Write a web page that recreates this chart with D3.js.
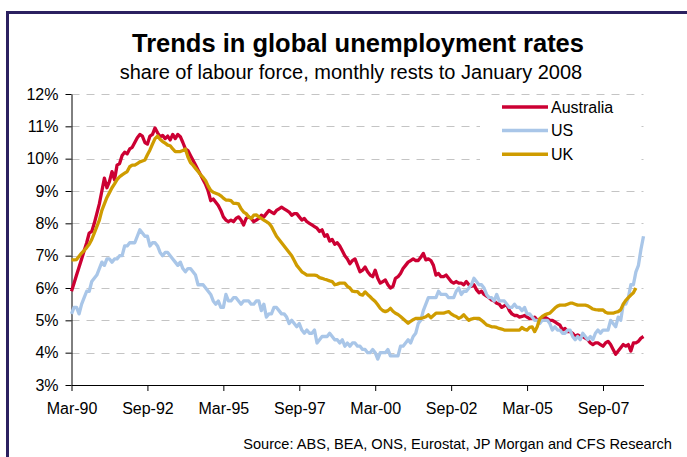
<!DOCTYPE html>
<meta charset="utf-8">
<head>
  <title>Trends in global unemployment rates</title>
</head>

<style>
  body { margin: 0; background: #fff; }
  text { font-family: "Liberation Sans", Arial, sans-serif; fill: #000; }
</style>

<body>

  <div id="my_dataviz"></div>

  <script src="https://d3js.org/d3.v7.min.js"></script>

  <script>

  // month index 0 = Mar-90 ... 226 = Jan-09
  var tickMonths = [0, 30, 60, 90, 120, 150, 180, 210];
  var tickLabels = ["Mar-90", "Sep-92", "Mar-95", "Sep-97", "Mar-00", "Sep-02", "Mar-05", "Sep-07"];
  var yTicks = [3, 4, 5, 6, 7, 8, 9, 10, 11, 12];
  var seriesNames = ["Australia", "US", "UK"];

  // unemployment rate, %, monthly from Mar-90 (one row per calendar year)
  var australia = [
    5.9, 6.15, 6.4, 6.65, 6.9, 7.15, 7.4, 7.7, 7.75, 8.0,
    8.3, 8.6, 9.0, 9.4, 9.1, 9.3, 9.6, 9.35, 9.8, 9.85, 10.1, 10.2,
    10.15, 10.3, 10.35, 10.5, 10.65, 10.75, 10.7, 10.5, 10.45, 10.7, 10.75, 10.95,
    10.8, 10.68, 10.72, 10.62, 10.7, 10.58, 10.75, 10.62, 10.75, 10.68, 10.5, 10.3,
    10.25, 10.1, 9.95, 9.8, 9.65, 9.5, 9.35, 9.2, 9.0, 8.7, 8.75, 8.65,
    8.55, 8.4, 8.2, 8.1, 8.05, 8.1, 8.05, 8.15, 8.2, 8.1, 7.95, 8.15,
    8.2, 8.15, 8.05, 8.1, 8.15, 8.25, 8.2, 8.3, 8.4, 8.35, 8.3, 8.4,
    8.45, 8.5, 8.45, 8.4, 8.35, 8.25, 8.3, 8.3, 8.2, 8.1, 8.15, 8.05,
    8.0, 7.95, 7.9, 7.85, 7.75, 7.8, 7.6, 7.65, 7.45, 7.5, 7.35, 7.4,
    7.3, 7.15, 7.0, 6.9, 6.75, 6.85, 6.9, 6.7, 6.5, 6.55, 6.65, 6.5,
    6.4, 6.35, 6.55, 6.3, 6.15, 6.2, 6.25, 6.1, 6.0, 6.05, 6.3, 6.35,
    6.45, 6.6, 6.7, 6.8, 6.85, 6.9, 6.85, 6.85, 6.95, 7.07, 6.87, 6.9,
    6.85, 6.7, 6.4, 6.45, 6.35, 6.35, 6.4, 6.3, 6.2, 6.15, 6.2, 6.15,
    6.15, 6.1, 6.2, 6.1, 6.05, 6.1, 5.95, 5.85, 5.9, 5.8, 5.75, 5.7,
    5.63, 5.6, 5.53, 5.5, 5.4, 5.45, 5.48, 5.3, 5.2, 5.15, 5.15, 5.1,
    5.12, 5.15, 5.1, 5.05, 5.05, 5.1, 5.0, 5.0, 5.05, 5.1, 5.05, 5.0,
    5.0, 4.95, 4.9, 4.85, 4.7, 4.75, 4.65, 4.65, 4.6, 4.5, 4.55, 4.5,
    4.5, 4.45, 4.4, 4.3, 4.25, 4.3, 4.3, 4.25, 4.2, 4.3, 4.35, 4.25,
    4.1, 3.95, 4.05, 4.15, 4.25, 4.2, 4.25, 4.05, 4.3, 4.3, 4.35, 4.45,
    4.5
  ];

  var us = [
    5.2, 5.4, 5.4, 5.2, 5.5, 5.7, 5.9, 5.9, 6.2, 6.3,
    6.4, 6.6, 6.8, 6.7, 6.9, 6.9, 6.8, 6.9, 6.9, 7.0, 7.0, 7.3,
    7.3, 7.4, 7.4, 7.4, 7.6, 7.8, 7.7, 7.6, 7.6, 7.3, 7.4, 7.4,
    7.3, 7.1, 7.0, 7.1, 7.1, 7.0, 6.9, 6.8, 6.7, 6.8, 6.6, 6.5,
    6.6, 6.6, 6.5, 6.4, 6.1, 6.1, 6.1, 6.0, 5.9, 5.8, 5.6, 5.5,
    5.6, 5.4, 5.4, 5.8, 5.6, 5.6, 5.7, 5.7, 5.6, 5.5, 5.6, 5.6,
    5.6, 5.5, 5.5, 5.6, 5.6, 5.3, 5.5, 5.1, 5.2, 5.2, 5.4, 5.4,
    5.3, 5.2, 5.2, 5.1, 4.9, 5.0, 4.9, 4.8, 4.9, 4.7, 4.6, 4.7,
    4.6, 4.6, 4.7, 4.3, 4.4, 4.5, 4.5, 4.5, 4.6, 4.5, 4.4, 4.4,
    4.3, 4.4, 4.2, 4.3, 4.2, 4.3, 4.3, 4.2, 4.2, 4.1, 4.1, 4.0,
    4.0, 4.1, 4.0, 3.8, 4.0, 4.0, 4.0, 4.1, 3.9, 3.9, 3.9, 3.9,
    4.2, 4.2, 4.3, 4.4, 4.3, 4.5, 4.6, 4.9, 5.0, 5.3, 5.5, 5.7,
    5.7, 5.7, 5.7, 5.9, 5.8, 5.8, 5.8, 5.7, 5.7, 5.7, 5.9, 6.0,
    5.8, 5.9, 5.9, 6.0, 6.1, 6.3, 6.2, 6.1, 6.1, 6.0, 5.8, 5.7,
    5.7, 5.6, 5.8, 5.6, 5.6, 5.6, 5.5, 5.4, 5.4, 5.5, 5.4, 5.4,
    5.3, 5.4, 5.2, 5.2, 5.1, 5.0, 5.0, 4.9, 5.0, 5.0, 5.0, 4.9,
    4.7, 4.8, 4.7, 4.7, 4.6, 4.6, 4.7, 4.7, 4.5, 4.4, 4.5, 4.4,
    4.6, 4.5, 4.4, 4.5, 4.4, 4.6, 4.7, 4.6, 4.7, 4.7, 4.7, 5.0,
    4.9, 4.8, 5.1, 5.0, 5.5, 5.5, 5.7, 6.1, 6.1, 6.5, 6.7, 7.2,
    7.6
  ];

  // UK series stops at Oct-08
  var uk = [
    6.87, 6.87, 6.88, 6.98, 7.08, 7.16, 7.25, 7.35, 7.5, 7.7,
    7.9, 8.1, 8.4, 8.6, 8.8, 8.95, 9.1, 9.22, 9.35, 9.44, 9.5, 9.55,
    9.6, 9.75, 9.8, 9.8, 9.85, 9.9, 9.93, 9.96, 10.12, 10.27, 10.45, 10.62,
    10.7, 10.6, 10.53, 10.48, 10.42, 10.4, 10.3, 10.22, 10.22, 10.22, 10.25, 10.3,
    10.05, 9.88, 9.8, 9.7, 9.6, 9.5, 9.42, 9.32, 9.15, 9.02, 8.96, 8.93,
    8.9, 8.85, 8.78, 8.72, 8.72, 8.7, 8.62, 8.62, 8.6, 8.45, 8.35, 8.3,
    8.2, 8.15, 8.25, 8.26, 8.2, 8.15, 8.1, 8.05, 8.0, 7.9, 7.75, 7.6,
    7.5, 7.4, 7.3, 7.2, 7.1, 7.0, 6.85, 6.7, 6.6, 6.5, 6.45, 6.4,
    6.4, 6.4, 6.4, 6.38, 6.32, 6.3, 6.27, 6.25, 6.22, 6.2, 6.1, 6.12,
    6.15, 6.15, 6.15, 6.05, 6.0, 5.9, 5.89, 5.89, 5.8, 5.78, 5.88, 5.8,
    5.73, 5.65, 5.58, 5.48, 5.37, 5.3, 5.27, 5.3, 5.37, 5.28, 5.22, 5.18,
    5.12, 5.05, 4.98, 4.91, 4.97, 5.02, 5.06, 5.06, 5.06, 5.08, 5.11, 5.17,
    5.08, 5.15, 5.22, 5.22, 5.22, 5.22, 5.25, 5.27, 5.2, 5.15, 5.12, 5.06,
    5.1, 5.17, 5.08, 5.0, 5.04, 5.06, 5.06, 5.06, 5.0, 4.93, 4.86, 4.83,
    4.8, 4.8, 4.78, 4.75, 4.73, 4.7, 4.7, 4.7, 4.7, 4.7, 4.7, 4.7,
    4.78, 4.72, 4.7, 4.78, 4.8, 4.65, 4.8, 5.05, 5.12, 5.17, 5.2, 5.22,
    5.3, 5.38, 5.44, 5.47, 5.47, 5.47, 5.5, 5.53, 5.53, 5.5, 5.47, 5.47,
    5.47, 5.47, 5.45, 5.4, 5.35, 5.33, 5.32, 5.32, 5.32, 5.25, 5.22, 5.22,
    5.22, 5.25, 5.27, 5.33, 5.5, 5.62, 5.7, 5.78, 5.85, 6.0
  ];

  var allSeries = [australia, us, uk];

  // set the dimensions of the page and the plot area
  var W = 687, H = 457;
  var plot = {left: 71.5, right: 643.5, top: 94, bottom: 385};

  var svg = d3.select("#my_dataviz")
    .append("svg")
      .attr("width", W)
      .attr("height", H);

  // dark frame, open to the right and bottom
  svg.append("path")
    .attr("d", "M7.5," + H + "V12.5H" + W)
    .attr("fill", "none")
    .attr("stroke", "#2b2060")
    .attr("stroke-width", 3);

  // titles
  svg.append("text")
    .attr("x", 358).attr("y", 52)
    .attr("text-anchor", "middle")
    .style("font-size", "25.5px").style("font-weight", "bold")
    .text("Trends in global unemployment rates");
  svg.append("text")
    .attr("x", 351).attr("y", 79)
    .attr("text-anchor", "middle")
    .style("font-size", "20px")
    .text("share of labour force, monthly rests to January 2008");

  // scales
  var x = d3.scaleLinear()
    .domain([0, australia.length - 1])
    .range([plot.left, plot.right]);
  var y = d3.scaleLinear()
    .domain([3, 12])
    .range([plot.bottom, plot.top]);

  var color = d3.scaleOrdinal()
    .domain(seriesNames)
    .range(["#cc0033", "#a9c6e8", "#cf9c00"]);

  // dashed gridlines
  svg.append("g")
    .selectAll("line")
    .data(yTicks.slice(1))
    .enter().append("line")
      .attr("x1", plot.left).attr("x2", plot.right)
      .attr("y1", function(d) { return Math.round(y(d)) + 0.5; })
      .attr("y2", function(d) { return Math.round(y(d)) + 0.5; })
      .attr("stroke", "#c4c4c4")
      .attr("stroke-dasharray", "8,7");

  // Y axis
  var yAxis = svg.append("g")
    .attr("transform", "translate(" + plot.left + ",0)")
    .call(d3.axisLeft(y).tickValues(yTicks).tickSize(6).tickSizeOuter(0).tickPadding(7)
      .tickFormat(function(d) { return d + "%"; }));

  // X axis
  var xAxis = svg.append("g")
    .attr("transform", "translate(0," + plot.bottom + ")")
    .call(d3.axisBottom(x).tickValues(tickMonths).tickSize(6).tickSizeOuter(0).tickPadding(12)
      .tickFormat(function(d, i) { return tickLabels[i]; }));

  [yAxis, xAxis].forEach(function(a) {
    a.selectAll("text").style("font-size", "16px").style("font-family", "'Liberation Sans', Arial, sans-serif");
    a.selectAll("line, path").attr("stroke", "#000");
  });

  // the lines
  var line = d3.line()
    .x(function(d, i) { return x(i); })
    .y(function(d) { return y(d); });

  svg.append("g")
    .selectAll("path")
    .data(allSeries)
    .enter().append("path")
      .attr("d", line)
      .attr("fill", "none")
      .attr("stroke", function(d, i) { return color(seriesNames[i]); })
      .attr("stroke-width", 3.3)
      .attr("stroke-linejoin", "round");

  // legend, on a white box that hides the grid
  var legend = svg.append("g");
  legend.append("rect")
    .attr("x", 480).attr("y", 97)
    .attr("width", 160).attr("height", 76)
    .attr("fill", "#fff");

  var rows = legend.selectAll("g.row")
    .data(seriesNames)
    .enter().append("g")
      .attr("class", "row")
      .attr("transform", function(d, i) { return "translate(502," + (107 + i * 23.6) + ")"; });
  rows.append("line")
    .attr("x1", 0).attr("x2", 46)
    .attr("stroke", function(d) { return color(d); })
    .attr("stroke-width", 3.5);
  rows.append("text")
    .attr("x", 49).attr("dy", "0.35em")
    .style("font-size", "16px")
    .text(function(d) { return d; });

  // source note
  svg.append("text")
    .attr("x", 672).attr("y", 449)
    .attr("text-anchor", "end")
    .style("font-size", "14.6px")
    .text("Source: ABS, BEA, ONS, Eurostat, JP Morgan and CFS Research");

  </script>
</body>
</html>
